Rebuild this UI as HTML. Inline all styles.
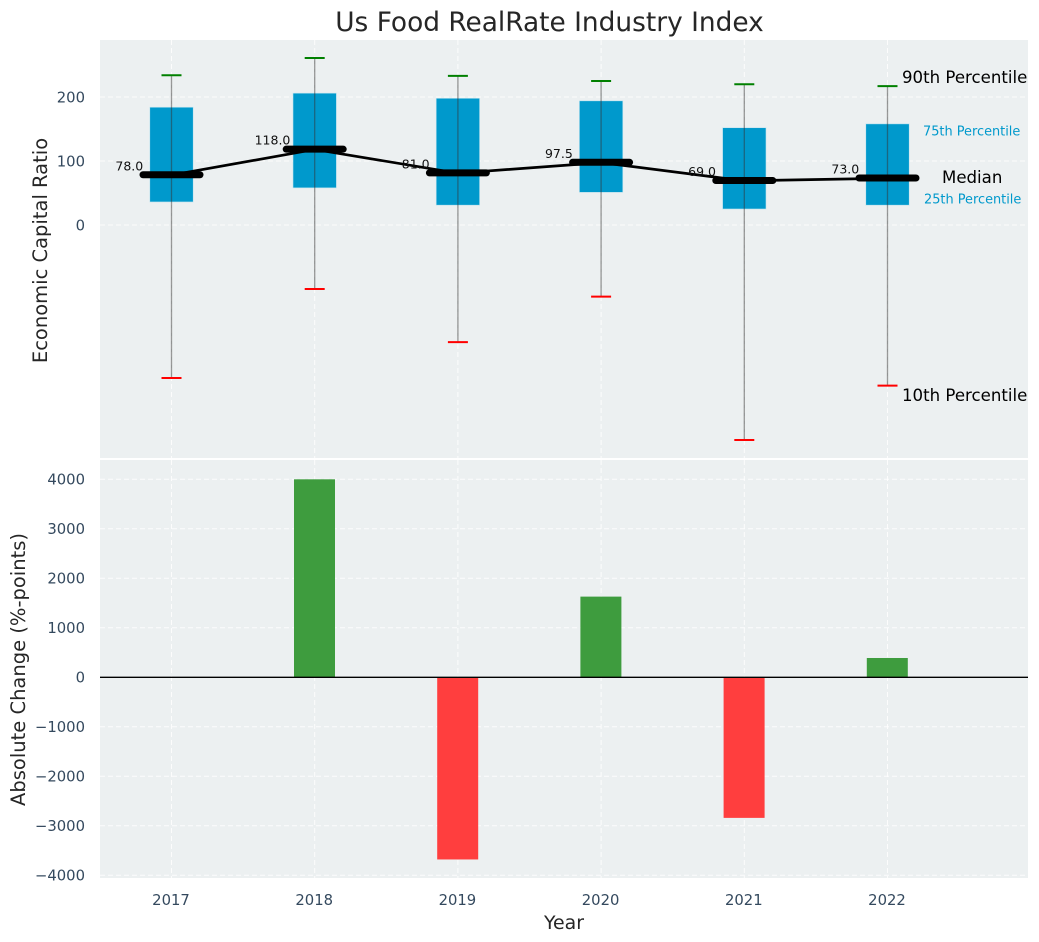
<!DOCTYPE html>
<html>
<head>
<meta charset="utf-8">
<style>
html,body{margin:0;padding:0;background:#fff;width:1039px;height:942px;overflow:hidden}
svg{display:block}
text{font-family:"DejaVu Sans","Liberation Sans",sans-serif}
</style>
</head>
<body>
<svg id="chart" xmlns="http://www.w3.org/2000/svg" width="1039" height="942" viewBox="0 0 1039 942"></svg>
<script>
const years = [2017, 2018, 2019, 2020, 2021, 2022];
const p90 = [234, 261, 233, 225, 220, 217];
const p75 = [184, 206, 198, 194, 152, 158];
const medians = [78, 118, 81, 97.5, 69, 73];
const p25 = [36, 58, 31, 51, 25, 31];
const p10 = [-239, -100, -183, -112, -336, -251];
const changes = [0, 4000, -3680, 1630, -2840, 390];
const topTicks = [0, 100, 200];
const bottomTicks = [-4000, -3000, -2000, -1000, 0, 1000, 2000, 3000, 4000];

const svg = document.getElementById('chart');
const NS = 'http://www.w3.org/2000/svg';
const x = v => 171.5 + (v - 2017) * 143.2;
const yTop = v => 225 - v * 0.64;
const yBottom = v => 677.3 - v * 0.0495;

function add(tag, attrs, name, content) {
  const el = document.createElementNS(NS, tag);
  for (const k in attrs) el.setAttribute(k, attrs[k]);
  
  
  if (content !== undefined) el.textContent = content;
  svg.appendChild(el);
  return el;
}
const fmt = v => (v < 0 ? '\u2212' + Math.abs(v) : String(v));
const grid = {stroke: '#fff', 'stroke-width': 1, 'stroke-dasharray': '5 3', opacity: 0.85};

add('text', {x: 549.5, y: 31, 'text-anchor': 'middle', 'font-size': 26.4, fill: '#262626'}, 'chart-title', 'Us Food RealRate Industry Index');

/* panels */
add('rect', {x: 100, y: 40, width: 928, height: 418, fill: '#ecf0f1'}, 'top-panel-background');
add('rect', {x: 100, y: 460, width: 928, height: 418, fill: '#ecf0f1'}, 'bottom-panel-background');

/* grid and ticks */
years.forEach(yr => {
  add('line', Object.assign({x1: x(yr), x2: x(yr), y1: 40, y2: 458}, grid), 'top-x-gridline');
  add('line', Object.assign({x1: x(yr), x2: x(yr), y1: 460, y2: 878}, grid), 'bottom-x-gridline');
  add('text', {x: x(yr) - 0.5, y: 905, 'text-anchor': 'middle', 'font-size': 14.8, fill: '#34495e'}, 'x-tick-label', yr);
});
topTicks.forEach(t => {
  add('line', Object.assign({x1: 100, x2: 1028, y1: yTop(t), y2: yTop(t)}, grid), 'top-y-gridline');
  add('text', {x: 85, y: yTop(t) + 5.4, 'text-anchor': 'end', 'font-size': 14.8, fill: '#34495e'}, 'top-y-tick-label', fmt(t));
});
bottomTicks.forEach(t => {
  add('line', Object.assign({x1: 100, x2: 1028, y1: yBottom(t), y2: yBottom(t)}, grid), 'bottom-y-gridline');
  add('text', {x: 85, y: yBottom(t) + 5.4, 'text-anchor': 'end', 'font-size': 14.8, fill: '#34495e'}, 'bottom-y-tick-label', fmt(t));
});

/* boxes */
years.forEach((yr, i) => {
  const cx = x(yr);
  add('rect', {x: cx - 21.7, y: yTop(p75[i]), width: 43.4, height: yTop(p25[i]) - yTop(p75[i]), fill: '#0099cc', stroke: '#bfe3ef', 'stroke-width': 0.6}, 'iqr-box-' + yr);
});

/* median trend line */
add('polyline', {
  points: years.map((yr, i) => x(yr) + ',' + yTop(medians[i])).join(' '),
  fill: 'none', stroke: '#000', 'stroke-width': 2.7
}, 'median-trend-line');

/* whiskers, caps, medians */
years.forEach((yr, i) => {
  const cx = x(yr);
  add('line', {x1: cx, x2: cx, y1: yTop(p90[i]), y2: yTop(p10[i]), stroke: '#333', 'stroke-opacity': 0.5, 'stroke-width': 1.3}, 'whisker-' + yr);
  add('line', {x1: cx - 10, x2: cx + 10, y1: yTop(p90[i]), y2: yTop(p90[i]), stroke: '#008000', 'stroke-width': 2}, 'p90-cap-' + yr);
  add('line', {x1: cx - 10, x2: cx + 10, y1: yTop(p10[i]), y2: yTop(p10[i]), stroke: '#ff0000', 'stroke-width': 2}, 'p10-cap-' + yr);
  add('line', {x1: cx - 28.5, x2: cx + 28.5, y1: yTop(medians[i]) - 0.3, y2: yTop(medians[i]) - 0.3, stroke: '#000', 'stroke-width': 7, 'stroke-linecap': 'round'}, 'median-bar-' + yr);
  add('text', {x: cx - 42.2, y: yTop(medians[i]) - 4.8, 'text-anchor': 'middle', 'font-size': 12.5, fill: '#111'}, 'median-value-' + yr, medians[i].toFixed(1));
});

/* change bars */
years.forEach((yr, i) => {
  if (!changes[i]) return;
  const a = yBottom(Math.max(changes[i], 0));
  const b = yBottom(Math.min(changes[i], 0));
  add('rect', {x: x(yr) - 20.7, y: a, width: 41, height: b - a, fill: changes[i] > 0 ? '#3e9c3e' : '#ff3e3e'}, 'change-bar-' + yr);
});
add('line', {x1: 100, x2: 1028, y1: yBottom(0), y2: yBottom(0), stroke: '#000', 'stroke-width': 1.3}, 'zero-line');

/* annotations */
add('text', {x: 902, y: 83, 'font-size': 16.6, fill: '#000'}, 'p90-annotation', '90th Percentile');
add('text', {x: 923, y: 135.5, 'font-size': 12.9, fill: '#0099cc'}, 'p75-annotation', '75th Percentile');
add('text', {x: 942, y: 183, 'font-size': 16.6, fill: '#000'}, 'median-annotation', 'Median');
add('text', {x: 924, y: 203.5, 'font-size': 12.9, fill: '#0099cc'}, 'p25-annotation', '25th Percentile');
add('text', {x: 902, y: 401, 'font-size': 16.6, fill: '#000'}, 'p10-annotation', '10th Percentile');

/* axis titles */
add('text', {x: 564, y: 929, 'text-anchor': 'middle', 'font-size': 18.9, fill: '#262626'}, 'x-axis-title', 'Year');
add('text', {transform: 'translate(47,250.5) rotate(-90)', 'text-anchor': 'middle', 'font-size': 19.5, fill: '#262626'}, 'top-y-axis-title', 'Economic Capital Ratio');
add('text', {transform: 'translate(25,669.5) rotate(-90)', 'text-anchor': 'middle', 'font-size': 19.5, fill: '#262626'}, 'bottom-y-axis-title', 'Absolute Change (%-points)');
</script>
</body>
</html>
